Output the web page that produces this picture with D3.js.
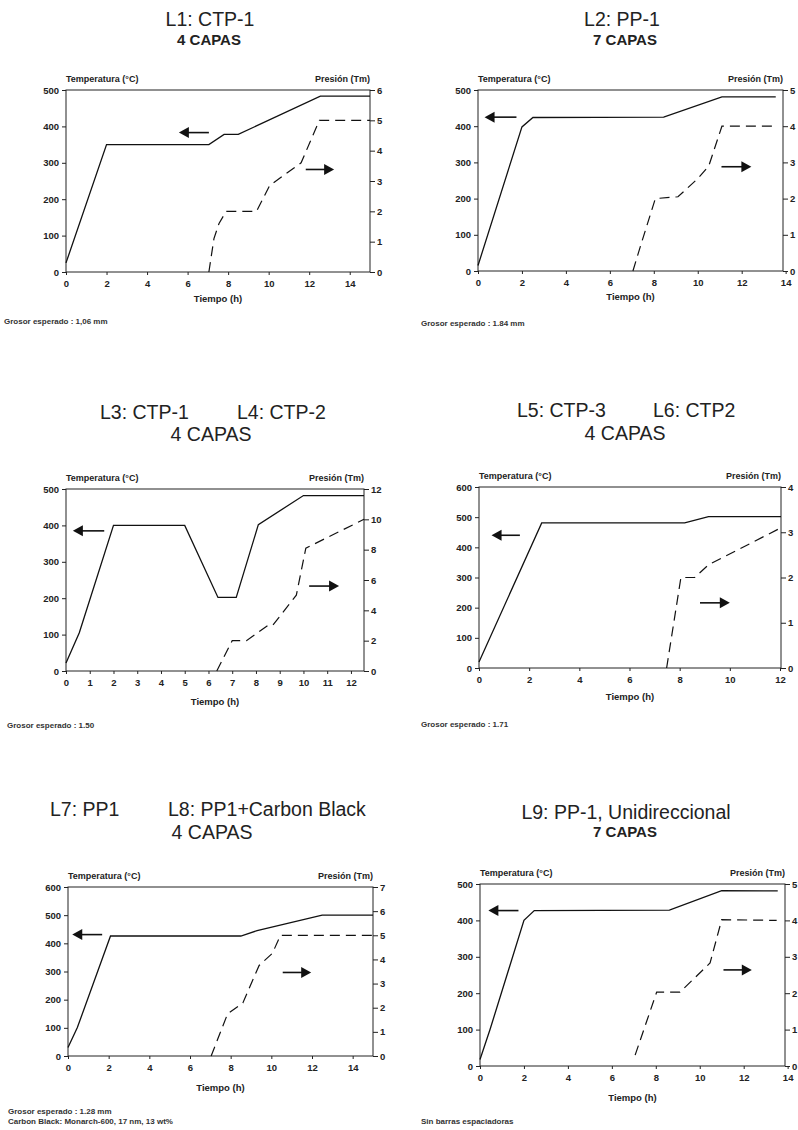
<!DOCTYPE html>
<html lang="es">
<head>
<meta charset="UTF-8" />
<title>Ciclos de consolidación L1 - L9</title>
<script src="https://d3js.org/d3.v7.min.js"></script>
<style>
    body { margin: 0; background: #fff; }
    svg { display: block; font-family: "Liberation Sans", Arial, sans-serif; }
    .tick text { font-size: 9.5px; font-weight: bold; fill: #222; }
    .tick line { stroke: #222; }
    .domain { display: none; }
    .frame { fill: none; stroke: #222; stroke-width: 1; }
    .temp { fill: none; stroke: #111; stroke-width: 1.3; }
    .pres { fill: none; stroke: #111; stroke-width: 1.2; stroke-dasharray: 10, 6; }
    .arrow line { stroke: #111; stroke-width: 1.6; }
    .arrow path { fill: #111; }
    .axlab { font-size: 9px; font-weight: bold; fill: #222; }
    .xlab { font-size: 9.5px; font-weight: bold; fill: #222; }
    .note { font-size: 8px; font-weight: bold; fill: #333; }
    .t1 { font-size: 19.5px; fill: #222; }
    .t2b { font-size: 15px; font-weight: bold; fill: #222; }
    .t2 { font-size: 19.5px; fill: #222; }
</style>
</head>
<body>
<div id="chart"></div>
<script>
// tick labels
const xTicks14 = [0, 2, 4, 6, 8, 10, 12, 14];
const xTicks12 = [0, 1, 2, 3, 4, 5, 6, 7, 8, 9, 10, 11, 12];
const xTicks12even = [0, 2, 4, 6, 8, 10, 12];
const tempTicks500 = [0, 100, 200, 300, 400, 500];
const tempTicks600 = [0, 100, 200, 300, 400, 500, 600];
const presTicks4 = [0, 1, 2, 3, 4];
const presTicks5 = [0, 1, 2, 3, 4, 5];
const presTicks6 = [0, 1, 2, 3, 4, 5, 6];
const presTicks7 = [0, 1, 2, 3, 4, 5, 6, 7];
const presTicks12 = [0, 2, 4, 6, 8, 10, 12];

// [tiempo (h), temperatura (°C)] and [tiempo (h), presión (Tm)]
const tempL1 = [[0, 25], [2, 350], [7.05, 350], [7.8, 378], [8.5, 378], [12.55, 483], [15, 483]];
const presL1 = [[7.05, 0], [7.3, 1.1], [7.55, 1.6], [7.9, 2], [9.4, 2], [10.05, 2.85], [11.6, 3.6], [12.5, 5], [15, 5]];
const tempL2 = [[0, 15], [2, 398], [2.5, 424], [8.45, 425], [11.1, 481], [13.55, 481]];
const presL2 = [[7.05, 0], [7.4, 0.7], [8.07, 2], [9.1, 2.05], [10, 2.55], [10.5, 2.9], [11.1, 4], [13.55, 4]];
const tempL3 = [[0, 22], [0.56, 105], [2, 400], [5, 400], [6.4, 202], [7.17, 202], [8.1, 402], [10, 482], [12.55, 482]];
const presL3 = [[6.35, 0], [7, 2], [7.6, 2], [8.5, 3], [8.7, 3], [9.7, 5], [10.1, 8.1], [12.55, 10]];
const tempL5 = [[0, 20], [2.5, 481], [8.2, 481], [9.15, 502], [12.04, 502]];
const presL5 = [[7.48, 0], [8.05, 2], [8.6, 2], [9.15, 2.28], [12.04, 3.1]];
const tempL7 = [[0, 30], [0.46, 101], [2.09, 426], [8.5, 426], [9.3, 445], [12.5, 500], [15, 500]];
const presL7 = [[7.04, 0], [7.85, 1.75], [8.6, 2.2], [9.4, 3.75], [10.05, 4.25], [10.45, 5], [15, 5]];
const tempL9 = [[0, 18], [0.46, 101], [2, 400], [2.47, 427], [8.62, 428], [11, 482], [13.55, 481]];
const presL9 = [[7.06, 0.3], [8.04, 2.03], [9.1, 2.03], [10.47, 2.83], [11, 4.02], [13.5, 4]];

// arrows: [from t, to t, level] on the temperature / pressure axis
const arrowTempL1 = [7.05, 5.57, 383], arrowPresL1 = [11.83, 13.23, 3.38];
const arrowTempL2 = [1.75, 0.3, 425], arrowPresL2 = [11.08, 12.44, 2.88];
const arrowTempL3 = [1.61, 0.29, 385], arrowPresL3 = [10.24, 11.5, 5.6];
const arrowTempL5 = [1.63, 0.5, 440], arrowPresL5 = [8.81, 10.0, 1.44];
const arrowTempL7 = [1.68, 0.21, 431], arrowPresL7 = [10.56, 11.96, 3.46];
const arrowTempL9 = [1.75, 0.38, 427], arrowPresL9 = [11.08, 12.37, 2.64];

const panels = [
    { left: 66, right: 370, top: 90, bottom: 272, xMax: 15, xTicks: xTicks14, tMax: 500, tTicks: tempTicks500, pMax: 6, pTicks: presTicks6,
      temp: tempL1, pres: presL1, aT: arrowTempL1, aP: arrowPresL1, xlabY: 30,
      titles: [{ t: "L1: CTP-1", x: 210, y: 26, c: "t1", a: "middle" }, { t: "4 CAPAS", x: 209, y: 45, c: "t2b", a: "middle" }],
      notes: [{ t: "Grosor esperado : 1,06 mm", x: 4, y: 324 }] },
    { left: 478, right: 783, top: 90, bottom: 271, xMax: 13.88, xTicks: xTicks14, tMax: 500, tTicks: tempTicks500, pMax: 5, pTicks: presTicks5,
      temp: tempL2, pres: presL2, aT: arrowTempL2, aP: arrowPresL2, xlabY: 29,
      titles: [{ t: "L2: PP-1", x: 622, y: 26, c: "t1", a: "middle" }, { t: "7 CAPAS", x: 625, y: 45, c: "t2b", a: "middle" }],
      notes: [{ t: "Grosor esperado : 1.84 mm", x: 421, y: 326 }] },
    { left: 66, right: 364, top: 489, bottom: 671, xMax: 12.55, xTicks: xTicks12, tMax: 500, tTicks: tempTicks500, pMax: 12, pTicks: presTicks12,
      temp: tempL3, pres: presL3, aT: arrowTempL3, aP: arrowPresL3, xlabY: 34,
      titles: [{ t: "L3: CTP-1", x: 100, y: 419, c: "t1", a: "start" }, { t: "L4: CTP-2", x: 237, y: 419, c: "t1", a: "start" },
               { t: "4 CAPAS", x: 211, y: 441, c: "t2", a: "middle" }],
      notes: [{ t: "Grosor esperado : 1.50", x: 7, y: 728 }] },
    { left: 479, right: 781, top: 487, bottom: 668, xMax: 12.04, xTicks: xTicks12even, tMax: 600, tTicks: tempTicks600, pMax: 4, pTicks: presTicks4,
      temp: tempL5, pres: presL5, aT: arrowTempL5, aP: arrowPresL5, xlabY: 32,
      titles: [{ t: "L5: CTP-3", x: 517, y: 417, c: "t1", a: "start" }, { t: "L6: CTP2", x: 653, y: 417, c: "t1", a: "start" },
               { t: "4 CAPAS", x: 625, y: 440, c: "t2", a: "middle" }],
      notes: [{ t: "Grosor esperado : 1.71", x: 421, y: 727 }] },
    { left: 68, right: 373, top: 887, bottom: 1056, xMax: 15, xTicks: xTicks14, tMax: 600, tTicks: tempTicks600, pMax: 7, pTicks: presTicks7,
      temp: tempL7, pres: presL7, aT: arrowTempL7, aP: arrowPresL7, xlabY: 35,
      titles: [{ t: "L7: PP1", x: 50, y: 816, c: "t1", a: "start" }, { t: "L8: PP1+Carbon Black", x: 168, y: 816, c: "t1", a: "start" },
               { t: "4 CAPAS", x: 212, y: 839, c: "t2", a: "middle" }],
      notes: [{ t: "Grosor esperado : 1.28 mm", x: 8, y: 1114 }, { t: "Carbon Black: Monarch-600, 17 nm, 13 wt%", x: 8, y: 1124 }] },
    { left: 480, right: 785, top: 884, bottom: 1066, xMax: 13.88, xTicks: xTicks14, tMax: 500, tTicks: tempTicks500, pMax: 5, pTicks: presTicks5,
      temp: tempL9, pres: presL9, aT: arrowTempL9, aP: arrowPresL9, xlabY: 35,
      titles: [{ t: "L9: PP-1, Unidireccional", x: 626, y: 819, c: "t1", a: "middle" }, { t: "7 CAPAS", x: 625, y: 837, c: "t2b", a: "middle" }],
      notes: [{ t: "Sin barras espaciadoras", x: 421, y: 1124 }] }
];

const svg = d3.select("#chart").append("svg")
    .attr("width", 798)
    .attr("height", 1130);

svg.append("rect").attr("width", 798).attr("height", 1130).attr("fill", "#fff");

function drawArrow(g, x, y, a) {
    const x0 = x(a[0]), x1 = x(a[1]), yy = y(a[2]);
    const dir = Math.sign(x1 - x0);
    const head = 10, half = 5.5;
    const g2 = g.append("g").attr("class", "arrow");
    g2.append("line")
        .attr("x1", x0).attr("x2", x1 - dir * head + dir)
        .attr("y1", yy).attr("y2", yy);
    g2.append("path")
        .attr("d", `M${x1},${yy} L${x1 - dir * head},${yy - half} L${x1 - dir * head},${yy + half} Z`);
}

panels.forEach(p => {
    const g = svg.append("g");

    const x = d3.scaleLinear().domain([0, p.xMax]).range([p.left, p.right]);
    const yT = d3.scaleLinear().domain([0, p.tMax]).range([p.bottom, p.top]);
    const yP = d3.scaleLinear().domain([0, p.pMax]).range([p.bottom, p.top]);

    g.append("rect")
        .attr("class", "frame")
        .attr("x", p.left).attr("y", p.top)
        .attr("width", p.right - p.left)
        .attr("height", p.bottom - p.top);

    g.append("g")
        .attr("transform", `translate(${p.left},0)`)
        .call(d3.axisLeft(yT).tickValues(p.tTicks).tickFormat(d3.format("d")).tickSize(4).tickPadding(3));

    g.append("g")
        .attr("transform", `translate(${p.right},0)`)
        .call(d3.axisRight(yP).tickValues(p.pTicks).tickFormat(d3.format("d")).tickSize(5).tickPadding(2));

    g.append("g")
        .attr("transform", `translate(0,${p.bottom})`)
        .call(d3.axisBottom(x).tickValues(p.xTicks).tickFormat(d3.format("d")).tickSize(3).tickPadding(5));

    g.append("path")
        .datum(p.temp)
        .attr("class", "temp")
        .attr("d", d3.line().x(d => x(d[0])).y(d => yT(d[1])));

    g.append("path")
        .datum(p.pres)
        .attr("class", "pres")
        .attr("d", d3.line().x(d => x(d[0])).y(d => yP(d[1])));

    drawArrow(g, x, yT, p.aT);
    drawArrow(g, x, yP, p.aP);

    g.append("text").attr("class", "axlab")
        .attr("x", p.left).attr("y", p.top - 8)
        .text("Temperatura (°C)");
    g.append("text").attr("class", "axlab")
        .attr("x", p.right).attr("y", p.top - 8)
        .attr("text-anchor", "end")
        .text("Presión (Tm)");
    g.append("text").attr("class", "xlab")
        .attr("x", (p.left + p.right) / 2).attr("y", p.bottom + p.xlabY)
        .attr("text-anchor", "middle")
        .text("Tiempo (h)");

    p.titles.forEach(t => {
        g.append("text").attr("class", t.c)
            .attr("x", t.x).attr("y", t.y)
            .attr("text-anchor", t.a)
            .text(t.t);
    });

    p.notes.forEach(n => {
        g.append("text").attr("class", "note")
            .attr("x", n.x).attr("y", n.y)
            .text(n.t);
    });
});
</script>
</body>
</html>
